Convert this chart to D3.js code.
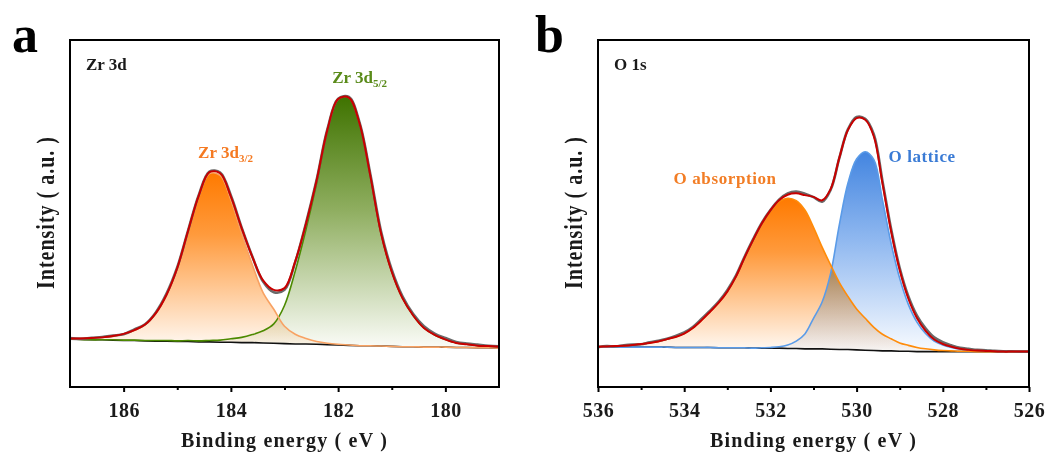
<!DOCTYPE html>
<html>
<head>
<meta charset="utf-8">
<script src="https://cdn.jsdelivr.net/npm/d3@7"></script>
<style>
  body { margin: 0; background: #fff; }
  svg text { font-family: "Liberation Serif", "Times New Roman", serif; font-weight: bold; }
</style>
</head>
<body>
<div id="chart"></div>
<script>
// Zr 3d spectrum, binding energy (eV) and intensities (a.u.)
var zrEnergy = [187.0, 186.8, 186.6, 186.4, 186.2, 186.0, 185.8, 185.6, 185.4, 185.2,
  185.0, 184.8, 184.6, 184.4, 184.2, 184.0, 183.8, 183.6, 183.4, 183.2,
  183.0, 182.8, 182.6, 182.4, 182.2, 182.0, 181.8, 181.6, 181.4, 181.2,
  181.0, 180.8, 180.6, 180.4, 180.2, 180.0, 179.8, 179.6, 179.4, 179.2, 179.0];
var zrBackground = [13.8, 13.7, 13.6, 13.6, 13.5, 13.4, 13.4, 13.3, 13.2, 13.2,
  13.1, 13.1, 13.0, 13.0, 12.9, 12.9, 12.8, 12.8, 12.7, 12.6,
  12.5, 12.4, 12.4, 12.3, 12.2, 12.1, 12.0, 11.9, 11.9, 11.8,
  11.7, 11.6, 11.6, 11.5, 11.5, 11.5, 11.4, 11.4, 11.3, 11.3, 11.2];
var zr3d32 = [14.0, 14.0, 14.1, 14.3, 14.6, 15.2, 16.3, 17.9, 21.1, 26.4,
  34.1, 44.6, 54.8, 61.5, 61.0, 53.9, 44.3, 35.2, 27.2, 22.4,
  17.5, 15.2, 14.0, 13.1, 12.6, 12.3, 12.1, 11.9, 11.9, 11.8,
  11.7, 11.6, 11.6, 11.5, 11.5, 11.5, 11.4, 11.4, 11.3, 11.3, 11.2];
var zr3d52 = [13.8, 13.7, 13.6, 13.6, 13.6, 13.5, 13.5, 13.4, 13.4, 13.4,
  13.3, 13.4, 13.3, 13.4, 13.5, 13.9, 14.3, 15.1, 16.2, 18.2,
  23.5, 33.4, 45.4, 58.8, 73.7, 82.8, 83.3, 75.9, 60.9, 44.3,
  33.2, 25.6, 20.6, 17.0, 15.0, 13.7, 12.7, 12.3, 11.9, 11.8, 11.6];
var zrFit = [14.0, 14.0, 14.1, 14.3, 14.7, 15.3, 16.4, 18.0, 21.3, 26.6,
  34.3, 44.9, 55.1, 61.9, 61.6, 54.9, 45.8, 37.5, 30.7, 28.0,
  28.5, 36.2, 47.0, 59.6, 74.1, 83.0, 83.4, 75.9, 60.9, 44.3,
  33.2, 25.6, 20.6, 17.0, 15.0, 13.7, 12.7, 12.3, 11.9, 11.8, 11.6];
var zrRaw = [14.1, 13.9, 14.2, 14.4, 14.8, 15.2, 16.6, 18.1, 21.5, 26.9,
  34.5, 45.0, 55.3, 62.1, 61.8, 55.2, 46.0, 37.6, 30.4, 27.3,
  28.0, 36.0, 47.2, 59.8, 74.3, 83.1, 83.6, 76.2, 61.4, 44.9,
  33.8, 26.1, 21.0, 17.5, 15.4, 14.1, 13.0, 12.5, 12.2, 11.9, 11.7];

// O 1s spectrum
var oEnergy = [536.0, 535.8, 535.6, 535.4, 535.2, 535.0, 534.8, 534.6, 534.4, 534.2,
  534.0, 533.8, 533.6, 533.4, 533.2, 533.0, 532.8, 532.6, 532.4, 532.2,
  532.0, 531.8, 531.6, 531.4, 531.2, 531.0, 530.8, 530.6, 530.4, 530.2,
  530.0, 529.8, 529.6, 529.4, 529.2, 529.0, 528.8, 528.6, 528.4, 528.2,
  528.0, 527.8, 527.6, 527.4, 527.2, 527.0, 526.8, 526.6, 526.4, 526.2, 526.0];
var oBackground = [11.5, 11.5, 11.5, 11.5, 11.5, 11.5, 11.5, 11.5, 11.5, 11.4,
  11.4, 11.4, 11.4, 11.4, 11.3, 11.3, 11.3, 11.3, 11.2, 11.2,
  11.2, 11.2, 11.1, 11.1, 11.0, 11.0, 11.0, 10.9, 10.8, 10.8,
  10.7, 10.6, 10.5, 10.4, 10.4, 10.3, 10.3, 10.2, 10.2, 10.2,
  10.2, 10.2, 10.2, 10.2, 10.2, 10.2, 10.2, 10.2, 10.2, 10.2, 10.2];
var oAbsorption = [11.6, 11.7, 11.8, 11.9, 12.1, 12.4, 12.7, 13.1, 13.8, 14.4,
  15.4, 17.0, 19.2, 21.7, 24.3, 27.5, 31.8, 37.3, 42.4, 47.0,
  50.7, 53.4, 54.4, 53.7, 51.0, 46.0, 40.3, 35.1, 30.1, 26.1,
  22.5, 19.8, 17.2, 15.2, 13.9, 12.7, 12.0, 11.4, 11.0, 10.7,
  10.5, 10.4, 10.3, 10.3, 10.2, 10.2, 10.2, 10.2, 10.2, 10.2, 10.2];
var oLattice = [11.5, 11.5, 11.5, 11.5, 11.5, 11.5, 11.5, 11.5, 11.5, 11.4,
  11.4, 11.4, 11.4, 11.4, 11.3, 11.3, 11.3, 11.3, 11.2, 11.3,
  11.4, 11.6, 12.1, 13.2, 15.3, 19.8, 24.5, 32.9, 46.8, 58.8,
  65.7, 67.8, 65.5, 53.9, 41.4, 31.3, 23.8, 18.7, 15.4, 13.2,
  12.1, 11.4, 10.9, 10.6, 10.5, 10.4, 10.3, 10.2, 10.2, 10.2, 10.2];
var oFit = [11.6, 11.7, 11.8, 11.9, 12.1, 12.4, 12.7, 13.1, 13.8, 14.4,
  15.4, 17.0, 19.2, 21.7, 24.3, 27.5, 31.8, 37.3, 42.4, 47.1,
  50.9, 53.8, 55.4, 55.8, 55.3, 54.8, 53.8, 57.1, 66.1, 74.1,
  77.5, 77.0, 72.2, 58.7, 44.9, 33.7, 25.5, 19.9, 16.2, 13.7,
  12.4, 11.6, 11.0, 10.7, 10.5, 10.4, 10.3, 10.2, 10.2, 10.2, 10.2];
var oRaw = [11.5, 11.8, 11.7, 12.0, 12.2, 12.3, 12.9, 13.3, 13.9, 14.7,
  15.7, 17.3, 19.6, 22.0, 24.6, 27.9, 32.1, 37.5, 42.6, 47.3,
  51.0, 54.0, 55.8, 56.3, 55.7, 54.7, 53.4, 56.9, 66.0, 74.3,
  77.8, 77.3, 72.8, 59.4, 45.6, 34.3, 26.2, 20.6, 16.9, 14.3,
  12.9, 12.0, 11.3, 11.0, 10.7, 10.6, 10.4, 10.3, 10.3, 10.2, 10.2];

var zrTicks = [186, 184, 182, 180];
var zrMinor = [185, 183, 181];
var oTicks = [536, 534, 532, 530, 528, 526];
var oMinor = [535, 533, 531, 529, 527];

var svg = d3.select("#chart")
  .append("svg")
    .attr("width", 1054)
    .attr("height", 457);

var defs = svg.append("defs");

// vertical fade gradients for the peak fills
function addGradient(id, stops) {
  var gr = defs.append("linearGradient")
    .attr("id", id)
    .attr("x1", 0).attr("y1", 0).attr("x2", 0).attr("y2", 1);
  stops.forEach(function(s) {
    gr.append("stop").attr("offset", s[0]).attr("stop-color", s[1]);
  });
}
addGradient("gOrange", [["0%", "#ff7a00"], ["35%", "#ff9a3c"], ["100%", "#fffaf5"]]);
addGradient("gGreen", [["0%", "#3f7300"], ["45%", "#8fae60"], ["100%", "#fbfcf8"]]);
addGradient("gBlue", [["0%", "#4385e0"], ["45%", "#91b9f0"], ["100%", "#f8fbff"]]);

function drawPanel(cfg) {
  var width = cfg.width, height = 347;
  var g = svg.append("g")
    .attr("transform", "translate(" + cfg.left + ",40)");

  var x = d3.scaleLinear().domain(cfg.domain).range([0, width]);
  var y = d3.scaleLinear().domain([0, 100]).range([height, 0]);

  defs.append("clipPath").attr("id", "clip" + cfg.id)
    .append("rect").attr("width", width).attr("height", height);

  var plot = g.append("g").attr("clip-path", "url(#clip" + cfg.id + ")");

  var E = cfg.energy, bg = cfg.background;
  var idx = d3.range(E.length);

  cfg.peaks.forEach(function(p) {
    var area = d3.area()
      .x(function(i) { return x(E[i]); })
      .y0(function(i) { return y(bg[i]); })
      .y1(function(i) { return y(p.values[i]); })
      .curve(d3.curveCatmullRom.alpha(0.5));
    plot.append("path")
      .datum(idx)
      .attr("d", area)
      .attr("fill", "url(#" + p.gradient + ")")
      .style("mix-blend-mode", "multiply");
  });

  var line = function(vals, curve) {
    return d3.line()
      .x(function(i) { return x(E[i]); })
      .y(function(i) { return y(vals[i]); })
      .curve(curve)(idx);
  };

  // Shirley background
  plot.append("path")
    .attr("d", line(bg, d3.curveLinear))
    .attr("fill", "none")
    .attr("stroke", "#111")
    .attr("stroke-width", 1.6);

  cfg.peaks.forEach(function(p) {
    plot.append("path")
      .attr("d", line(p.values, d3.curveCatmullRom.alpha(0.5)))
      .attr("fill", "none")
      .attr("stroke", p.stroke)
      .attr("stroke-width", 1.6);
  });

  // measured data and fitted envelope
  plot.append("path")
    .attr("d", line(cfg.raw, d3.curveCatmullRom.alpha(0.5)))
    .attr("fill", "none")
    .attr("stroke", "#6a6a6a")
    .attr("stroke-width", 2.6);
  plot.append("path")
    .attr("d", line(cfg.fit, d3.curveCatmullRom.alpha(0.5)))
    .attr("fill", "none")
    .attr("stroke", "#c80000")
    .attr("stroke-width", 2);

  // x axis, major and minor ticks pointing outwards
  var axis = g.append("g")
    .attr("transform", "translate(0," + height + ")")
    .call(d3.axisBottom(x).tickValues(cfg.ticks).tickSize(5).tickPadding(11).tickFormat(d3.format("d")));
  axis.select(".domain").remove();
  axis.selectAll("line").attr("stroke", "#000").attr("stroke-width", 2);
  axis.selectAll("text")
    .attr("font-size", 20)
    .attr("font-family", "Liberation Serif, Times New Roman, serif")
    .attr("font-weight", "bold")
    .attr("letter-spacing", 0.5)
    .attr("fill", "#1a1a1a");

  var minor = g.append("g")
    .attr("transform", "translate(0," + height + ")")
    .call(d3.axisBottom(x).tickValues(cfg.minor).tickSize(3).tickFormat(""));
  minor.select(".domain").remove();
  minor.selectAll("line").attr("stroke", "#000").attr("stroke-width", 2);

  // frame
  g.append("rect")
    .attr("width", width)
    .attr("height", height)
    .attr("fill", "none")
    .attr("stroke", "#000")
    .attr("stroke-width", 2);

  g.append("text")
    .attr("x", width / 2)
    .attr("y", height + 60)
    .attr("text-anchor", "middle")
    .attr("font-size", 20)
    .attr("letter-spacing", 1.2)
    .attr("fill", "#1a1a1a")
    .text("Binding energy ( eV )");

  g.append("text")
    .attr("transform", "translate(" + cfg.ylabelX + "," + (height / 2 - 1) + ")rotate(-90)scale(1,1.3)")
    .attr("text-anchor", "middle")
    .attr("font-size", 20)
    .attr("letter-spacing", 1)
    .attr("fill", "#1a1a1a")
    .text("Intensity ( a.u. )");

  g.append("text")
    .attr("x", 16)
    .attr("y", 30)
    .attr("font-size", 17)
    .attr("fill", "#1a1a1a")
    .text(cfg.title);

  svg.append("text")
    .attr("x", cfg.letterX)
    .attr("y", 52)
    .attr("font-size", 52)
    .attr("fill", "#000")
    .text(cfg.letter);

  cfg.labels.forEach(function(l) {
    var t = g.append("text")
      .attr("x", x(l.at))
      .attr("y", l.y)
      .attr("text-anchor", "middle")
      .attr("font-size", 17)
      .attr("letter-spacing", l.spacing || 0)
      .attr("fill", l.color)
      .text(l.text);
    if (l.sub) {
      t.append("tspan")
        .attr("font-size", 11)
        .attr("dy", 4)
        .text(l.sub);
    }
  });
}

drawPanel({
  id: "a", left: 70, width: 429, domain: [187, 179],
  energy: zrEnergy, background: zrBackground, raw: zrRaw, fit: zrFit,
  peaks: [
    {values: zr3d52, gradient: "gGreen", stroke: "#4c8a00"},
    {values: zr3d32, gradient: "gOrange", stroke: "#f8a263"}
  ],
  ticks: zrTicks, minor: zrMinor,
  title: "Zr 3d", letter: "a", letterX: 12, ylabelX: -16,
  labels: [
    {text: "Zr 3d", sub: "3/2", at: 184.1, y: 118, color: "#f57a22"},
    {text: "Zr 3d", sub: "5/2", at: 181.6, y: 43, color: "#5a8b1a"}
  ]
});

drawPanel({
  id: "b", left: 598, width: 431, domain: [536, 526],
  energy: oEnergy, background: oBackground, raw: oRaw, fit: oFit,
  peaks: [
    {values: oLattice, gradient: "gBlue", stroke: "#5a9be8"},
    {values: oAbsorption, gradient: "gOrange", stroke: "#ff8c0a"}
  ],
  ticks: oTicks, minor: oMinor,
  title: "O 1s", letter: "b", letterX: 535, ylabelX: -16,
  labels: [
    {text: "O absorption", at: 533.05, y: 144, color: "#f27d25", spacing: 0.6},
    {text: "O lattice", at: 528.48, y: 122, color: "#3a7bd5", spacing: 0.6}
  ]
});
</script>
</body>
</html>
